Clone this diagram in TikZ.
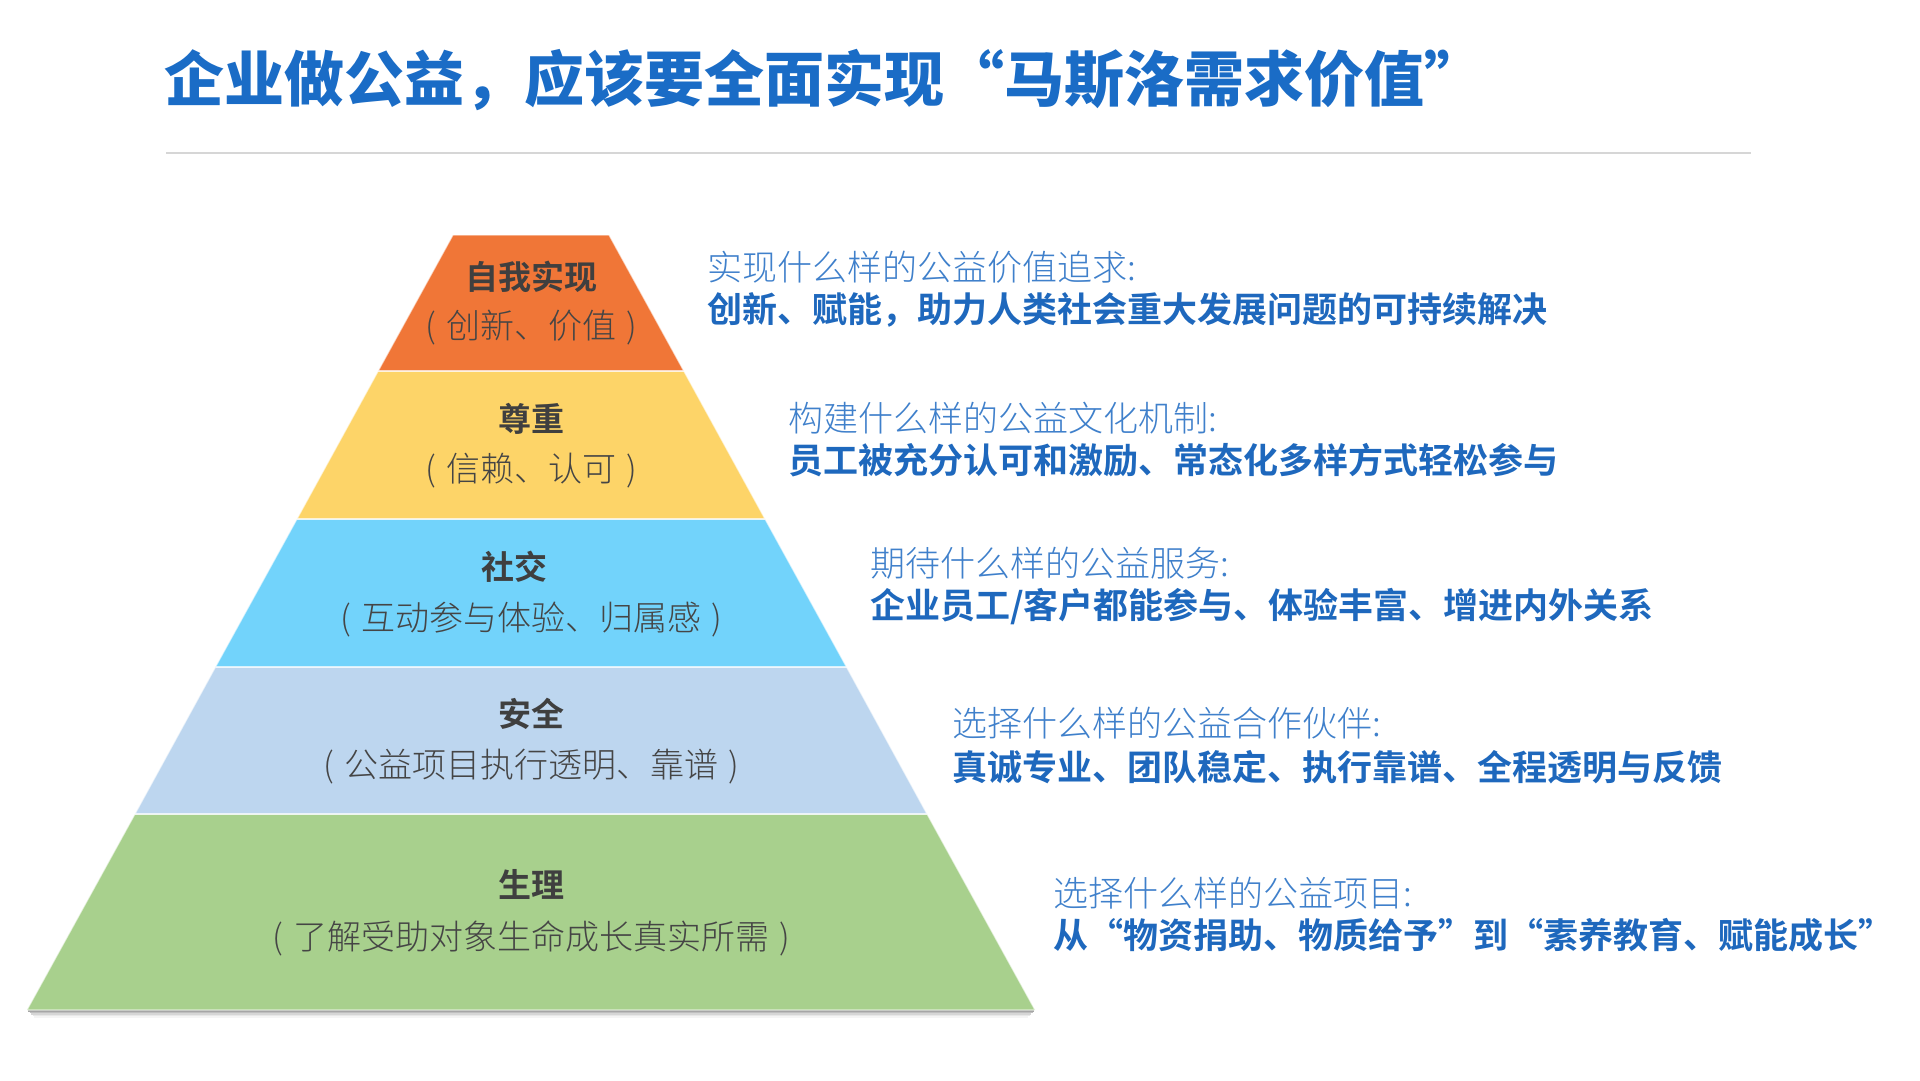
\documentclass[tikz,border=0pt]{standalone}
\usepackage{fontspec}
\newfontfamily\cjk{Noto Sans CJK SC}
\newfontfamily\cjklight{Noto Sans CJK SC Light}
\newfontfamily\cjkbold{Noto Sans CJK SC Bold}
\newfontfamily\cjkblack{Noto Sans CJK SC Black}
\usetikzlibrary{positioning}
\definecolor{titleblue}{HTML}{1A6CC6}
\definecolor{qblue}{HTML}{3F80CB}
\definecolor{ablue}{HTML}{1E68BD}
\definecolor{rulegray}{HTML}{D6D6D6}
\definecolor{lorange}{HTML}{F07637}
\definecolor{lyellow}{HTML}{FDD468}
\definecolor{lcyan}{HTML}{72D3FB}
\definecolor{lpale}{HTML}{BDD6EF}
\definecolor{lgreen}{HTML}{A8D08D}
\definecolor{hdgray}{HTML}{3F3F3F}
\definecolor{subgray}{HTML}{454545}
\tikzset{
  layer/.style={draw=white, draw opacity=0.6, line width=1.2pt},
  lvlhead/.style={font=\cjkbold\fontsize{33}{38}\selectfont, text=hdgray, inner sep=0pt},
  lvlsub/.style={font=\cjklight\fontsize{34}{40}\selectfont, text=subgray, inner sep=0pt},
  qtext/.style={anchor=west, font=\cjklight\fontsize{35}{40}\selectfont, text=qblue, inner sep=0pt},
  atext/.style={anchor=west, font=\cjkbold\fontsize{35}{40}\selectfont, text=ablue, inner sep=0pt},
}
\newcommand{\paren}[1]{(\hspace{0.3em}#1\hspace{0.3em})}
\begin{document}
\begin{tikzpicture}[x=1pt,y=-1pt]
\useasboundingbox (0,0) rectangle (1920,1080);
\fill[white] (0,0) rectangle (1920,1080);

% title
\node[anchor=west, font=\cjkblack\fontsize{60}{66}\selectfont, text=titleblue, inner sep=0pt] (title) at (164,80)
  {企业做公益，应该要全面实现“马斯洛需求价值”};
\coordinate (ruleL) at (166,153);
\coordinate (ruleR) at (1751,153);
\draw[rulegray, line width=1.6pt] (ruleL) -- (ruleR);

% shadow under pyramid
\foreach \o/\a in {1/0.35,2.5/0.25,4/0.16,5.5/0.09,7/0.04}{
  \draw[black, opacity=\a, line width=1.6pt] (27+\o,1010+\o) -- (1035-\o,1010+\o);
}

% pyramid layers
\fill[layer, fill=lgreen] (135,814) -- (927,814) -- (1035,1010) -- (27,1010) -- cycle;
\fill[layer, fill=lpale] (215.5,667) -- (846.5,667) -- (927,814) -- (135,814) -- cycle;
\fill[layer, fill=lcyan] (297,519) -- (765,519) -- (846.5,667) -- (215.5,667) -- cycle;
\fill[layer, fill=lyellow] (378.2,371) -- (683.8,371) -- (765,519) -- (297,519) -- cycle;
\fill[layer, fill=lorange] (453,235) -- (609,235) -- (683.8,371) -- (378.2,371) -- cycle;
\foreach \y/\l/\r in {371/378.2/683.8,519/297/765,667/215.5/846.5,814/135/927}{
  \draw[white, opacity=0.55, line width=1.5pt] (\l,\y) -- (\r,\y);
}

% layer texts
\node[lvlhead] (h1) at (531,277) {自我实现};
\node[lvlsub]  (s1) at (531,328) {\paren{创新、价值}};
\node[lvlhead] (h2) at (531,419) {尊重};
\node[lvlsub]  (s2) at (531,471) {\paren{信赖、认可}};
\node[lvlhead] (h3) at (514,567) {社交};
\node[lvlsub]  (s3) at (531,620) {\paren{互动参与体验、归属感}};
\node[lvlhead] (h4) at (531,714) {安全};
\node[lvlsub]  (s4) at (531,767) {\paren{公益项目执行透明、靠谱}};
\node[lvlhead] (h5) at (531,884) {生理};
\node[lvlsub]  (s5) at (531,938) {\paren{了解受助对象生命成长真实所需}};

% right-hand texts
\node[qtext] (q1) at (707,267) {实现什么样的公益价值追求:};
\node[atext] (a1) at (707,310) {创新、赋能，助力人类社会重大发展问题的可持续解决};
\node[qtext] (q2) at (788,418) {构建什么样的公益文化机制:};
\node[atext] (a2) at (788,460) {员工被充分认可和激励、常态化多样方式轻松参与};
\node[qtext] (q3) at (870,563) {期待什么样的公益服务:};
\node[atext] (a3) at (870,607) {企业员工/客户都能参与、体验丰富、增进内外关系};
\node[qtext] (q4) at (952,723) {选择什么样的公益合作伙伴:};
\node[atext] (a4) at (952,767) {真诚专业、团队稳定、执行靠谱、全程透明与反馈};
\node[qtext] (q5) at (1053,893) {选择什么样的公益项目:};
\node[atext] (a5) at (1053,935) {从“物资捐助、物质给予”到“素养教育、赋能成长”};
\end{tikzpicture}
\end{document}
